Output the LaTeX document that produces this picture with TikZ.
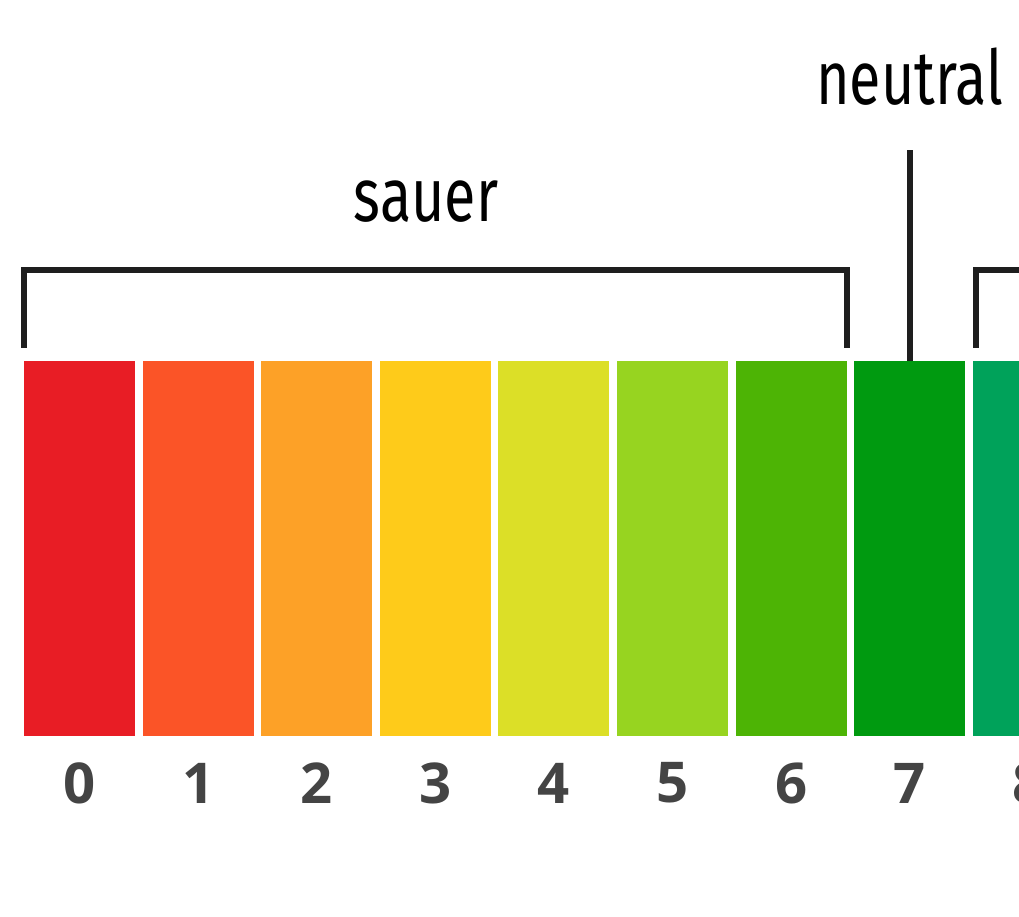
\documentclass[tikz,border=0pt]{standalone}
\usepackage{fontspec}
\usepackage{tikz}
\usetikzlibrary{positioning}
\newfontfamily\labelfont[FakeStretch=0.76]{Fira Sans}
\newfontfamily\numfont{Open Sans}

\definecolor{ph0}{HTML}{E81D25}
\definecolor{ph1}{HTML}{FB5427}
\definecolor{ph2}{HTML}{FDA127}
\definecolor{ph3}{HTML}{FECB1A}
\definecolor{ph4}{HTML}{DCDF27}
\definecolor{ph5}{HTML}{97D420}
\definecolor{ph6}{HTML}{4DB405}
\definecolor{ph7}{HTML}{009A10}
\definecolor{ph8}{HTML}{00A25A}
\definecolor{numgray}{HTML}{444444}
\definecolor{linegray}{HTML}{1E1E1E}

\begin{document}
\begin{tikzpicture}[node distance=2.372cm]
\tikzstyle{bar}=[rectangle,draw=none,inner sep=0pt,minimum width=2.22cm,minimum height=7.5cm]
\tikzstyle{num}=[draw=none,text=numgray,font=\numfont\bfseries\fontsize{32pt}{36pt}\selectfont,node distance=4.69cm]
\tikzstyle{tag}=[draw=none,text=black,font=\labelfont\fontsize{43pt}{48pt}\selectfont]
\tikzstyle{bracket}=[draw=linegray,line width=0.12cm]

        \fill[white] (0,0) rectangle (20.38,18.32);
        \useasboundingbox (0,0) rectangle (20.38,18.32);
        \clip (0,0) rectangle (20.38,18.32);

        % colour bars
        \node[bar, fill=ph0]                (b0)    at (1.59,7.35)    {};
        \node[bar, fill=ph1]                (b1)    [right of=b0]     {};
        \node[bar, fill=ph2]                (b2)    [right of=b1]     {};
        \node[bar, fill=ph3]                (b3)    [right of=b2]     {};
        \node[bar, fill=ph4]                (b4)    [right of=b3]     {};
        \node[bar, fill=ph5]                (b5)    [right of=b4]     {};
        \node[bar, fill=ph6]                (b6)    [right of=b5]     {};
        \node[bar, fill=ph7]                (b7)    [right of=b6]     {};
        \node[bar, fill=ph8]                (b8)    [right of=b7]     {};

        % pH values
        \node[num]                          (n0)    [below of=b0]     {0};
        \node[num]                          (n1)    [below of=b1]     {1};
        \node[num]                          (n2)    [below of=b2]     {2};
        \node[num]                          (n3)    [below of=b3]     {3};
        \node[num]                          (n4)    [below of=b4]     {4};
        \node[num]                          (n5)    [below of=b5]     {5};
        \node[num]                          (n6)    [below of=b6]     {6};
        \node[num]                          (n7)    [below of=b7]     {7};
        \node[num]                          (n8)    [below of=b8]     {8};

        % labels
        \node[tag]                          (sauer)   at (8.52,14.28)   {sauer};
        \node[tag, node distance=9.44cm]    (neutral) [above of=b7]     {neutral};
        \node[coordinate, node distance=7.97cm] (ntop) [above of=b7]    {};

        \draw[bracket] ([yshift=0.26cm]b0.north west) -- ++(0,1.56) -| ([yshift=0.26cm]b6.north east);
        \draw[bracket] (b7.north) -- (ntop);
        \draw[bracket] ([xshift=0.08cm,yshift=0.26cm]b8.north west) -- ++(0,1.56) -- ++(2,0);

\end{tikzpicture}
\end{document}
